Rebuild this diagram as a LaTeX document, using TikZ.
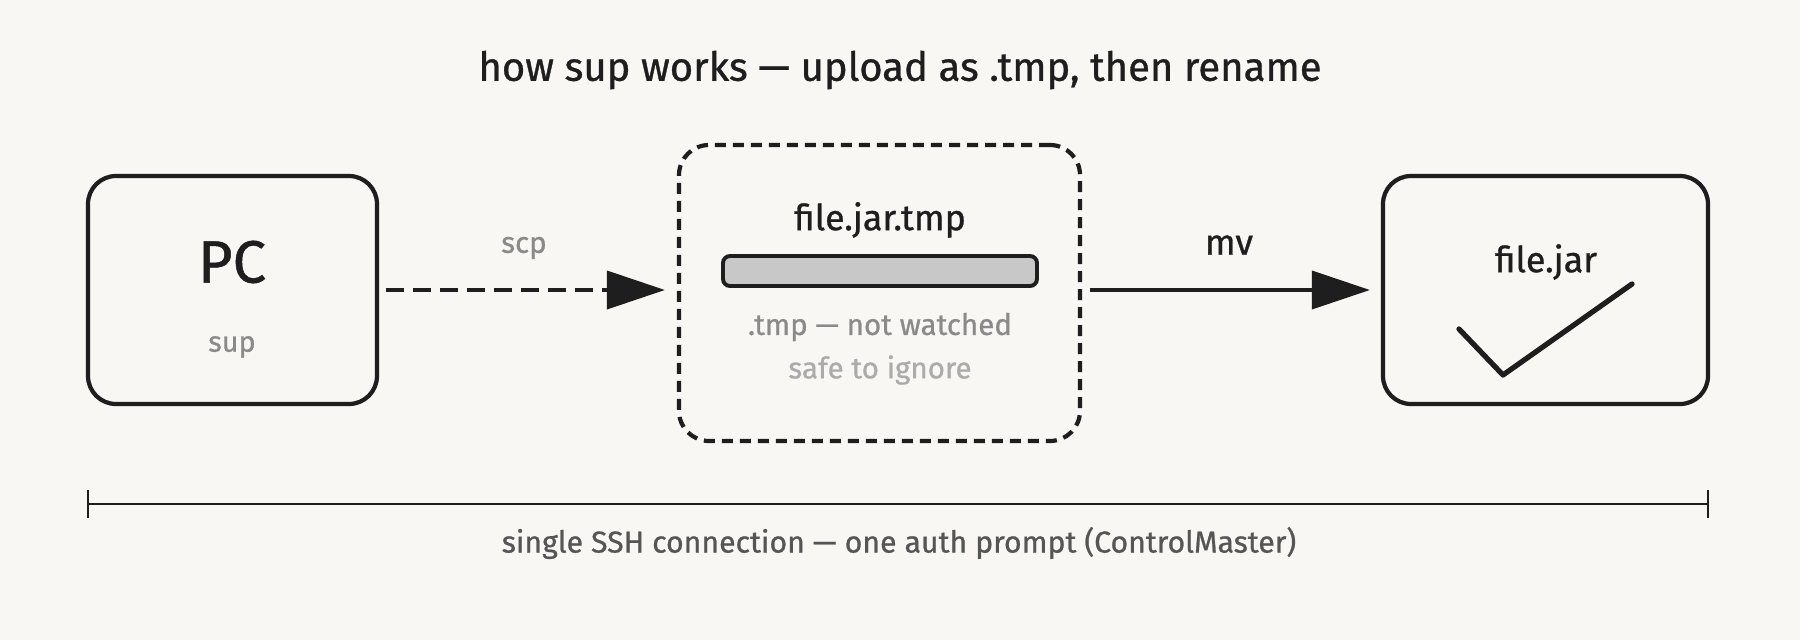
\documentclass[tikz,border=0pt]{standalone}
\usepackage{fontspec}
\setmainfont{Fira Sans}[FakeBold=0.8]
\usetikzlibrary{arrows.meta,calc}

\definecolor{paper}{HTML}{F8F7F3}
\definecolor{ink}{HTML}{1E1E1E}
\definecolor{midgray}{HTML}{8A8A8A}
\definecolor{lightgray}{HTML}{ABABAB}
\definecolor{bargray}{HTML}{C8C8C8}
\definecolor{notegray}{HTML}{555555}

\tikzset{
  hostbox/.style={draw=ink,line width=1.2pt,rounded corners=0.28cm},
  tmpbox/.style={draw=ink,line width=1.2pt,rounded corners=0.3cm,dash pattern=on 0.11cm off 0.07cm},
  flow/.style={draw=ink,line width=1.1pt,-{Triangle[length=5.8mm,width=3.8mm]}},
  txt/.style={inner sep=0pt,text=ink}
}

\begin{document}
\begin{tikzpicture}

% Background
\fill[paper] (0,0) rectangle (18,6.4);

% Title
\node[txt,font=\fontsize{11.4}{13}\selectfont] (title) at (9.00,5.70) {how sup works — upload as .tmp, then rename};

% PC box
\node[hostbox,minimum width=2.89cm,minimum height=2.28cm] (pc) at (2.325,3.50) {};
\node[txt,font=\fontsize{17}{20}\selectfont] (pcname) at (2.32,3.78) {PC};
\node[txt,text=midgray,font=\fontsize{8.2}{10}\selectfont] (pcsub) at (2.32,2.93) {sup};

% Temporary file box
\node[tmpbox,minimum width=4.01cm,minimum height=2.96cm] (tmp) at (8.795,3.47) {};
\node[txt,font=\fontsize{10.2}{12}\selectfont] (tmpname) at (8.80,4.20) {file.jar.tmp};
\node[draw=ink,fill=bargray,line width=1.1pt,rounded corners=0.07cm,minimum width=3.14cm,minimum height=0.30cm,inner sep=0pt] (bar) at (8.80,3.69) {};
\node[txt,text=midgray,font=\fontsize{8.4}{10}\selectfont] (tmpnote) at (8.80,3.13) {.tmp — not watched};
\node[txt,text=lightgray,font=\fontsize{8.4}{10}\selectfont] (tmpsafe) at (8.80,2.70) {safe to ignore};

% Final file box
\node[hostbox,minimum width=3.25cm,minimum height=2.28cm] (jar) at (15.455,3.50) {};
\node[txt,font=\fontsize{10.2}{12}\selectfont] (jarname) at (15.46,3.78) {file.jar};
\coordinate (chkA) at (14.59,3.11);
\coordinate (chkB) at (15.03,2.65);
\coordinate (chkC) at (16.32,3.56);
\draw[ink,line width=1.5pt,line cap=round,line join=round] (chkA) -- (chkB) -- (chkC);

% Upload arrow (scp)
\draw[flow,dash pattern=on 0.18cm off 0.09cm,shorten <=0.07cm,shorten >=0.12cm] (pc.east) -- (pc.east -| tmp.west);
\node[txt,text=midgray,font=\fontsize{8.4}{10}\selectfont] (scp) at (5.24,3.92) {scp};

% Rename arrow (mv)
\draw[flow,shorten <=0.08cm,shorten >=0.11cm] (pc.east -| tmp.east) -- (pc.east -| jar.west);
\node[txt,font=\fontsize{10.2}{12}\selectfont] (mv) at (12.29,3.95) {mv};

% Connection span
\coordinate (spanL) at (0.88,1.36);
\coordinate (spanR) at (17.08,1.36);
\draw[ink,line width=0.6pt] (spanL) -- (spanR);
\draw[ink,line width=0.3pt] ($(spanL)+(0,0.14)$) -- ($(spanL)+(0,-0.14)$);
\draw[ink,line width=0.3pt] ($(spanR)+(0,0.14)$) -- ($(spanR)+(0,-0.14)$);
\node[txt,text=notegray,font=\fontsize{8.6}{10}\selectfont] (span) at (8.99,0.97) {single SSH connection — one auth prompt (ControlMaster)};

\end{tikzpicture}
\end{document}
